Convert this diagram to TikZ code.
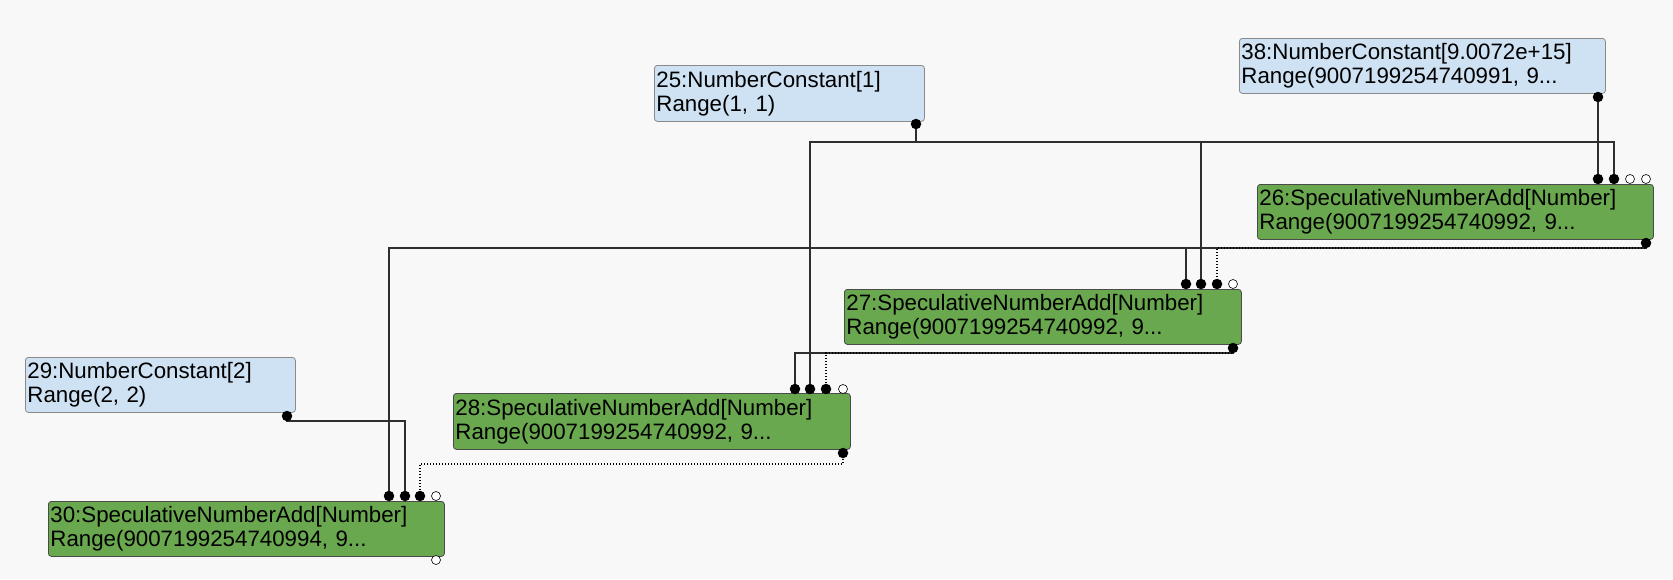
\documentclass[tikz,border=0pt]{standalone}
\usepackage{fontspec}
\setmainfont{Liberation Sans}
\definecolor{bgc}{HTML}{F8F8F8}
\definecolor{cblue}{HTML}{CFE2F3}
\definecolor{cgreen}{HTML}{6AA84F}
\definecolor{bbord}{HTML}{8A8A8A}
\definecolor{gbord}{HTML}{4A4A4A}
\definecolor{wirec}{HTML}{2E2E2E}
\begin{document}
\begin{tikzpicture}[x=1pt,y=-1pt,
  box/.style={rounded corners=3pt, anchor=north west, align=left, inner xsep=2pt, inner ysep=0pt,
    font=\fontsize{22.3}{24}\selectfont, line width=0.8pt},
  constbox/.style={box, fill=cblue, draw=bbord},
  specbox/.style={box, fill=cgreen, draw=gbord},
  wire/.style={line width=1.4pt, draw=wirec},
  dwire/.style={line width=1.4pt, draw=black, dash pattern=on 1.4pt off 1.6pt},
  pin/.style={circle, fill=black, inner sep=0pt, minimum size=10.5pt},
  opin/.style={circle, draw=black, fill=white, inner sep=0pt, minimum size=9pt, line width=0.6pt}]
\useasboundingbox[fill=bgc] (0,0) rectangle (1673,579);

% nodes
\node[constbox, minimum width=270pt, minimum height=56pt, text width=266pt] (n25) at (654,65)
  {25:NumberConstant[1]\\Range(1, 1)};
\node[constbox, minimum width=366pt, minimum height=55pt, text width=362pt] (n38) at (1239,38)
  {38:NumberConstant[9.0072e+15]\\Range(9007199254740991, 9...};
\node[specbox, minimum width=396pt, minimum height=55pt, text width=392pt] (n26) at (1257,184)
  {26:SpeculativeNumberAdd[Number]\\Range(9007199254740992, 9...};
\node[specbox, minimum width=397pt, minimum height=55pt, text width=393pt] (n27) at (844,289)
  {27:SpeculativeNumberAdd[Number]\\Range(9007199254740992, 9...};
\node[specbox, minimum width=397pt, minimum height=56pt, text width=393pt] (n28) at (453,393)
  {28:SpeculativeNumberAdd[Number]\\Range(9007199254740992, 9...};
\node[constbox, minimum width=270pt, minimum height=55pt, text width=266pt] (n29) at (25,357)
  {29:NumberConstant[2]\\Range(2, 2)};
\node[specbox, minimum width=396pt, minimum height=55pt, text width=392pt] (n30) at (48,501)
  {30:SpeculativeNumberAdd[Number]\\Range(9007199254740994, 9...};

% pin coordinates
\coordinate (p25o) at (916,124);
\coordinate (p38o) at (1598,97);
\coordinate (p29o) at (287,416);
\coordinate (p26a) at (1598,179);
\coordinate (p26b) at (1614,179);
\coordinate (p26c) at (1630,179);
\coordinate (p26d) at (1646,179);
\coordinate (p26o) at (1646,243);
\coordinate (p27a) at (1186,284);
\coordinate (p27b) at (1201,284);
\coordinate (p27c) at (1217,284);
\coordinate (p27d) at (1233,284);
\coordinate (p27o) at (1233,348);
\coordinate (p28a) at (795,389);
\coordinate (p28b) at (810,389);
\coordinate (p28c) at (826,389);
\coordinate (p28d) at (843,389);
\coordinate (p28o) at (843,453);
\coordinate (p30a) at (389,496);
\coordinate (p30b) at (405,496);
\coordinate (p30c) at (420,496);
\coordinate (p30d) at (436,496);
\coordinate (p30o) at (436,560);

% wires
\draw[wire] (p25o) -- ++(0,18) -| (p28b);
\draw[wire] (p25o) -- ++(0,18) -| (p27b);
\draw[wire] (p25o) -- ++(0,18) -| (p26b);
\draw[wire] (p38o) -- (p26a);
\draw[wire] (p26o) -- ++(0,5) -| (p30a);
\draw[wire] (p26o) -- ++(0,5) -| (p27a);
\draw[dwire] (p26o) -- ++(0,5) -| (p27c);
\draw[wire] (p27o) -- ++(0,5) -| (p28a);
\draw[dwire] (p27o) -- ++(0,5) -| (p28c);
\draw[dwire] (p28o) -- ++(0,11) -| (p30c);
\draw[wire] (p29o) -- ++(0,5) -| (p30b);

% pins
\foreach \p in {p25o,p38o,p29o,p26a,p26b,p26o,p27a,p27b,p27c,p27o,p28a,p28b,p28c,p28o,p30a,p30b,p30c}
  \node[pin] at (\p) {};
\foreach \p in {p26c,p26d,p27d,p28d,p30d,p30o}
  \node[opin] at (\p) {};
\end{tikzpicture}
\end{document}
